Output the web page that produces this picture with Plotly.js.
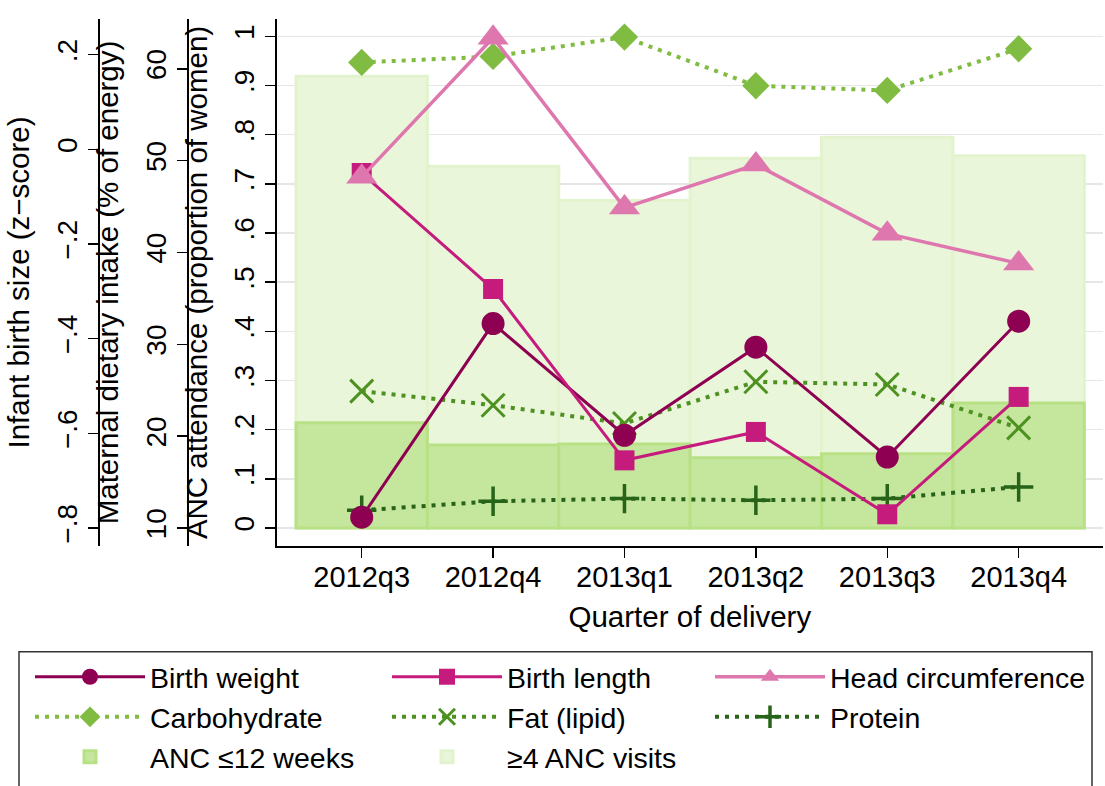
<!DOCTYPE html>
<html>
<head>
<meta charset="utf-8">
<script src="https://cdn.plot.ly/plotly-3.0.1.min.js"></script>
<style>html,body{margin:0;padding:0;background:#fff;}#chart{width:1105px;height:786px;}</style>
</head>
<body>
<div id="chart"></div>
<script>
const quarters = ['2012q3','2012q4','2013q1','2013q2','2013q3','2013q4'];
const birthWeight = [-0.777,-0.368,-0.604,-0.418,-0.650,-0.363];
const birthLength = [-0.050,-0.295,-0.657,-0.597,-0.771,-0.523];
const headCirc = [-0.058,0.236,-0.123,-0.032,-0.178,-0.241];
const carbohydrate = [60.69,61.34,63.45,58.15,57.64,62.18];
const fat = [24.90,23.37,21.38,25.92,25.63,20.90];
const protein = [11.93,12.91,13.20,13.02,13.20,14.47];
const ancEarly = [0.214,0.169,0.171,0.143,0.151,0.254];
const ancFour = [0.919,0.736,0.666,0.752,0.795,0.757];

const zTicks = [-0.8,-0.6,-0.4,-0.2,0,0.2];
const zTickText = ['\u2212.8','\u2212.6','\u2212.4','\u2212.2','0','.2'];
const dietTicks = [10,20,30,40,50,60];
const ancTicks = [0,0.1,0.2,0.3,0.4,0.5,0.6,0.7,0.8,0.9,1];
const ancTickText = ['0','.1','.2','.3','.4','.5','.6','.7','.8','.9','1'];

const FONT = 'Liberation Sans, Arial, Helvetica, sans-serif';
const W = 1105, H = 786, ML = 0, MR = 2, MT = 19, MB = 240;
const PW = W - ML - MR, PH = H - MT - MB;
const px2x = p => (p - ML) / PW;
const py2y = p => (H - MB - p) / PH;

const dotDash = '4px,6px';

const traces = [
  {type:'bar', x:quarters, y:ancFour, name:'\u22654 ANC visits', yaxis:'y', width:1, legend:'legend2',
   marker:{color:'#EAF6DA', line:{color:'#E3F3CD', width:3}}, legendrank:3},
  {type:'bar', x:quarters, y:ancEarly, name:'ANC \u226412 weeks', yaxis:'y', width:1, legend:'legend',
   marker:{color:'#C5E69D', line:{color:'#B8E186', width:3}}, legendrank:3},
  {type:'scatter', mode:'lines+markers', x:quarters, y:carbohydrate, name:'Carbohydrate', yaxis:'y2', legend:'legend',
   line:{color:'#7FBC41', width:4, dash:dotDash}, marker:{symbol:'diamond', size:21, color:'#7FBC41'}, legendrank:2},
  {type:'scatter', mode:'lines+markers', x:quarters, y:fat, name:'Fat (lipid)', yaxis:'y2', legend:'legend2',
   line:{color:'#4D9221', width:4, dash:dotDash}, marker:{symbol:'x-thin-open', size:23, color:'#4D9221', line:{width:3, color:'#4D9221'}}, legendrank:2},
  {type:'scatter', mode:'lines+markers', x:quarters, y:protein, name:'Protein', yaxis:'y2', legend:'legend3',
   line:{color:'#276419', width:4, dash:dotDash}, marker:{symbol:'cross-thin-open', size:21, color:'#276419', line:{width:3.5, color:'#276419'}}, legendrank:2},
  {type:'scatter', mode:'lines+markers', x:quarters, y:birthWeight, name:'Birth weight', yaxis:'y3', legend:'legend',
   line:{color:'#8E0152', width:3}, marker:{symbol:'circle', size:23, color:'#8E0152'}, legendrank:1},
  {type:'scatter', mode:'lines+markers', x:quarters, y:birthLength, name:'Birth length', yaxis:'y3', legend:'legend2',
   line:{color:'#C51B7D', width:3}, marker:{symbol:'square', size:20, color:'#C51B7D'}, legendrank:1},
  {type:'scatter', mode:'lines+markers', x:quarters, y:headCirc, name:'Head circumference', yaxis:'y3', legend:'legend3',
   line:{color:'#DE77AE', width:3.5}, marker:{symbol:'triangle-up', size:27, color:'#DE77AE'}, legendrank:1}
];

const yCommon = {
  showline:true, linecolor:'#000', linewidth:1.5,
  ticks:'outside', ticklen:10, tickwidth:1.5, tickcolor:'#000',
  tickangle:-90, tickfont:{family:FONT, size:28, color:'#000'},
  zeroline:false, fixedrange:true
};
const titleFont = {family:FONT, size:29.5, color:'#000'};

const legendTop = py2y(651.7);
const legendCommon = {
  orientation:'v', xanchor:'left', y:legendTop, yanchor:'top',
  bgcolor:'rgba(0,0,0,0)', borderwidth:0,
  font:{family:FONT, size:28.5, color:'#000'},
  itemwidth:110, traceorder:'normal', tracegroupgap:0
};

const layout = {
  width:W, height:H,
  margin:{l:ML, r:MR, t:MT, b:MB, pad:0},
  paper_bgcolor:'#fff', plot_bgcolor:'#fff',
  font:{family:FONT, size:28, color:'#000'},
  barmode:'overlay', bargap:0,
  showlegend:true,
  xaxis:{
    type:'category', domain:[px2x(276.7), 1], range:[-0.647, 5.642],
    showline:true, linecolor:'#000', linewidth:1.5,
    ticks:'outside', ticklen:10, tickwidth:1.5, tickcolor:'#000',
    ticklabelstandoff:-5,
    tickfont:{family:FONT, size:29, color:'#000'},
    showgrid:false, zeroline:false,
    title:{text:'Quarter of delivery', font:titleFont, standoff:14}
  },
  yaxis:Object.assign({}, yCommon, {
    range:[-0.0367, 1.0354], tickvals:ancTicks, ticktext:ancTickText,
    showgrid:true, gridcolor:'#E6E6E6', gridwidth:1.5, anchor:'x',
    title:{text:'ANC attendance (proportion of women)', font:titleFont}
  }),
  yaxis2:Object.assign({}, yCommon, {
    overlaying:'y', anchor:'free', position:px2x(187.3), side:'left',
    range:[8.04, 65.42], tickvals:dietTicks, showgrid:false,
    title:{text:'Maternal dietary intake (% of energy)', font:titleFont}
  }),
  yaxis3:Object.assign({}, yCommon, {
    overlaying:'y', anchor:'free', position:px2x(98.3), side:'left',
    range:[-0.838, 0.2755], tickvals:zTicks, ticktext:zTickText, showgrid:false,
    title:{text:'Infant birth size (z\u2212score)', font:titleFont}
  }),
  legend:Object.assign({}, legendCommon, {x:px2x(30)}),
  legend2:Object.assign({}, legendCommon, {x:px2x(387)}),
  legend3:Object.assign({}, legendCommon, {x:px2x(710)}),
  shapes:[
    {type:'rect', xref:'paper', yref:'paper', x0:px2x(19), x1:px2x(1092), y0:legendTop, y1:py2y(820),
     line:{color:'#333', width:1.5}, fillcolor:'rgba(0,0,0,0)', layer:'above'}
  ]
};

Plotly.newPlot('chart', traces, layout, {staticPlot:true, displayModeBar:false});
</script>
</body>
</html>
